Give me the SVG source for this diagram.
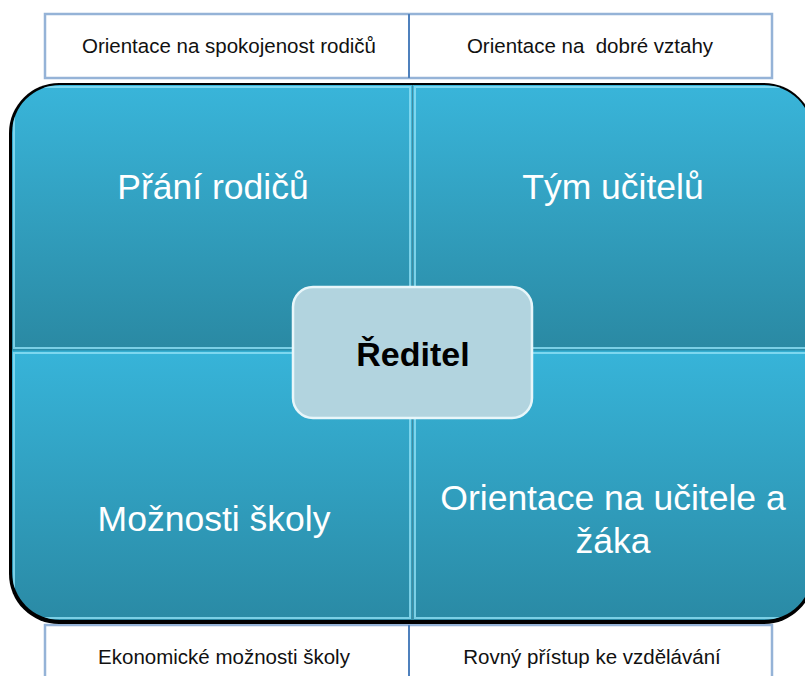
<svg xmlns="http://www.w3.org/2000/svg" width="805" height="676" viewBox="0 0 805 676">
<defs>
<linearGradient id="gTop" x1="0" y1="0" x2="0" y2="1">
<stop offset="0" stop-color="#39b5da"/>
<stop offset="1" stop-color="#2a89a3"/>
</linearGradient>
<linearGradient id="gBot" x1="0" y1="0" x2="0" y2="1">
<stop offset="0" stop-color="#37b4d9"/>
<stop offset="1" stop-color="#2a8aa5"/>
</linearGradient>
<clipPath id="outer"><rect x="12" y="85" width="800" height="535" rx="48"/></clipPath>
</defs>
<style>
.lbl{fill:#ffffff;font-family:"Liberation Sans",Arial,sans-serif;font-size:35.5px;text-anchor:middle}
.small{fill:#111111;font-family:"Liberation Sans",Arial,sans-serif;font-size:20.5px;text-anchor:middle}
.box{fill:#ffffff;stroke:#95b3d7;stroke-width:2.5}
.div{stroke:#4f81bd;stroke-width:2}
.hl{fill:none;stroke:#8fe0f5;stroke-width:2;opacity:0.8}
</style>
<g id="top-boxes">
<rect class="box" x="45" y="14" width="727" height="64"/>
<line class="div" x1="409" y1="14" x2="409" y2="78"/>
<text class="small" x="229" y="53">Orientace na spokojenost rodičů</text>
<text class="small" x="590" y="53">Orientace na&#160; dobré vztahy</text>
</g>
<g id="bottom-boxes">
<rect class="box" x="45" y="625" width="727" height="60"/>
<line class="div" x1="409" y1="625" x2="409" y2="676"/>
<text class="small" x="224" y="664">Ekonomické možnosti školy</text>
<text class="small" x="592" y="664">Rovný přístup ke vzdělávání</text>
</g>
<rect x="9" y="83" width="805" height="541" rx="50" fill="#000"/>
<g clip-path="url(#outer)">
<g id="q-tl">
<rect x="12" y="85" width="400" height="265" fill="url(#gTop)"/>
<rect class="hl" x="14" y="87" width="396" height="261"/>
</g>
<g id="q-tr">
<rect x="413" y="85" width="400" height="265" fill="url(#gTop)"/>
<rect class="hl" x="415" y="87" width="396" height="261"/>
</g>
<g id="q-bl">
<rect x="12" y="351" width="400" height="269" fill="url(#gBot)"/>
<rect class="hl" x="14" y="353" width="396" height="265"/>
</g>
<g id="q-br">
<rect x="413" y="351" width="400" height="269" fill="url(#gBot)"/>
<rect class="hl" x="415" y="353" width="396" height="265"/>
</g>
</g>
<line x1="412.5" y1="85" x2="412.5" y2="620" stroke="#5fc7e3" stroke-width="1.5" opacity="0.7"/>
<line x1="12" y1="350.5" x2="805" y2="350.5" stroke="#2f9cbc" stroke-width="1.5"/>
<text class="lbl" x="213" y="199">Přání rodičů</text>
<text class="lbl" x="613" y="199">Tým učitelů</text>
<text class="lbl" x="214" y="531">Možnosti školy</text>
<text class="lbl" x="613" y="510">Orientace na učitele a</text>
<text class="lbl" x="613" y="553">žáka</text>
<g id="center">
<rect x="293" y="287" width="239" height="131" rx="20" fill="#b2d4df" stroke="#e8f6fa" stroke-width="2.5"/>
<text x="413" y="366" font-family="'Liberation Sans',Arial,sans-serif" font-size="34" font-weight="bold" fill="#000" text-anchor="middle">Ředitel</text>
</g>
</svg>
